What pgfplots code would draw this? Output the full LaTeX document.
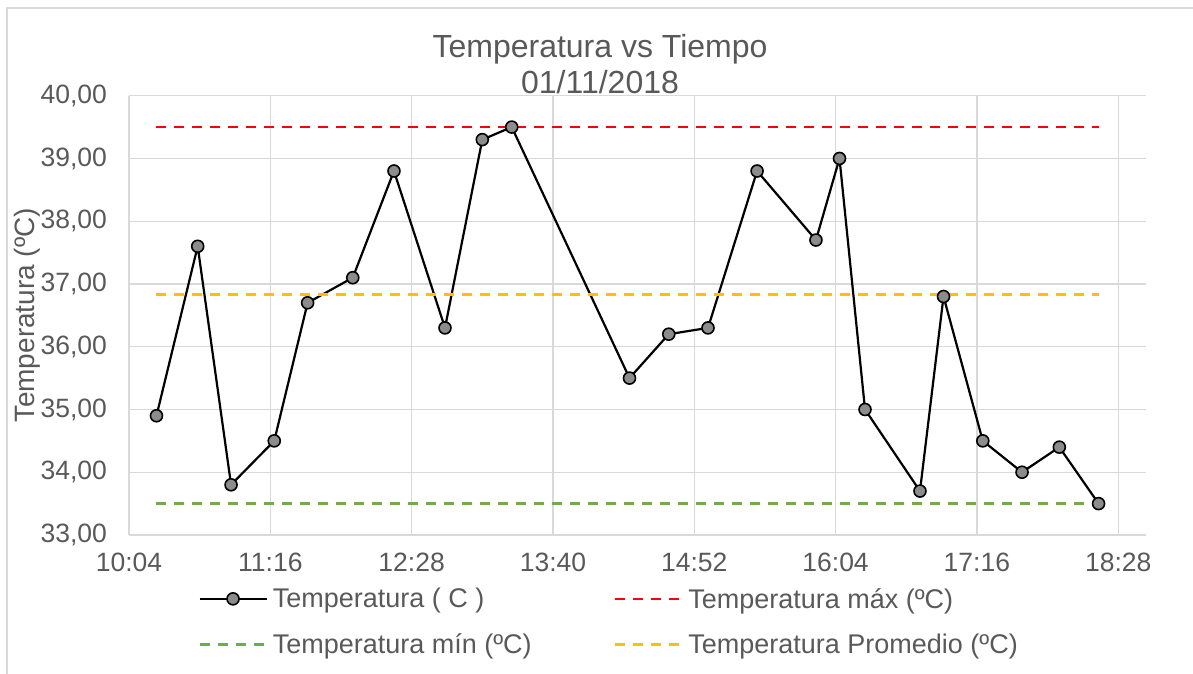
\documentclass[border=0pt]{standalone}
\usepackage{pgfplots}
\pgfplotsset{compat=1.18}
\usepackage{fontspec}
\setmainfont{Liberation Sans}
\definecolor{txt}{HTML}{595959}
\definecolor{gridc}{HTML}{D9D9D9}
\definecolor{tmax}{HTML}{FF0000}
\definecolor{tmin}{HTML}{70AD47}
\definecolor{tavg}{HTML}{FFC000}
\pgfplotstableread{
t v
618 34.9
639 37.6
656 33.8
678 34.5
695 36.7
718 37.1
739 38.8
765 36.3
784 39.3
799 39.5
859 35.5
879 36.2
899 36.3
924 38.8
954 37.7
966 39.0
979 35.0
1007 33.7
1019 36.8
1039 34.5
1059 34.0
1078 34.4
1098 33.5
}\temps
\begin{document}
\begin{tikzpicture}[x=1pt,y=1pt]
\useasboundingbox (0,0) rectangle (1193,674);
\draw[gridc, line width=1.2pt] (7,0) -- (7,666) -- (1193,666);
\node[txt, font=\fontsize{32}{38}\selectfont, anchor=base] at (600,616) {Temperatura vs Tiempo};
\node[txt, font=\fontsize{32}{38}\selectfont, anchor=base] at (600,580) {01/11/2018};
\begin{axis}[
 at={(129pt,139pt)}, anchor=south west,
 scale only axis, width=1016.7pt, height=439.3pt,
 xmin=604, xmax=1122, ymin=33, ymax=40,
 xtick={604,676,748,820,892,964,1036,1108},
 xticklabels={10:04,11:16,12:28,13:40,14:52,16:04,17:16,18:28},
 ytick={33,34,35,36,37,38,39,40},
 yticklabels={{33,00},{34,00},{35,00},{36,00},{37,00},{38,00},{39,00},{40,00}},
 grid=major, major grid style={gridc, line width=1.2pt},
 axis line style={draw=none},
 tick style={draw=none},
 tick label style={font=\fontsize{26.5}{31}\selectfont, text=txt},
 yticklabel style={xshift=-18.5pt},
 xticklabel style={yshift=-14pt},
 ylabel={Temperatura (ºC)},
 every axis y label/.style={at={(27pt-129pt,220pt)}, rotate=90, anchor=center,
   font=\fontsize{28}{32}\selectfont, text=txt},
 legend columns=2,
 legend cell align=left,
 legend style={at={(0.0679,-0.116)}, anchor=north west, draw=none, fill=none,
   font=\fontsize{27}{31}\selectfont, text=txt, inner sep=0pt, row sep=20pt,
   /tikz/every odd column/.append style={column sep=3pt},
   /tikz/every even column/.append style={column sep=80pt}},
 legend image code/.code={\draw[mark repeat=2,mark phase=2,#1] plot coordinates {(0pt,0pt) (33.5pt,0pt) (67pt,0pt)};},
 clip=false,
]
\addplot[black, line width=2.2pt, mark=*, mark size=6pt, mark options={fill=black!45, draw=black, line width=1.6pt}] table[x=t,y=v] {\temps};
\addlegendentry{Temperatura ( C )}
\addplot[tmax, line width=2.6pt, dash pattern=on 10pt off 8pt] coordinates {(618,39.5) (1098,39.5)};
\addlegendentry{Temperatura máx (ºC)}
\addplot[tmin, line width=2.6pt, dash pattern=on 10pt off 8pt] coordinates {(618,33.5) (1098,33.5)};
\addlegendentry{Temperatura mín (ºC)}
\addplot[tavg, line width=2.6pt, dash pattern=on 10pt off 8pt] coordinates {(618,36.83) (1098,36.83)};
\addlegendentry{Temperatura Promedio (ºC)}
\end{axis}
\end{tikzpicture}
\end{document}
